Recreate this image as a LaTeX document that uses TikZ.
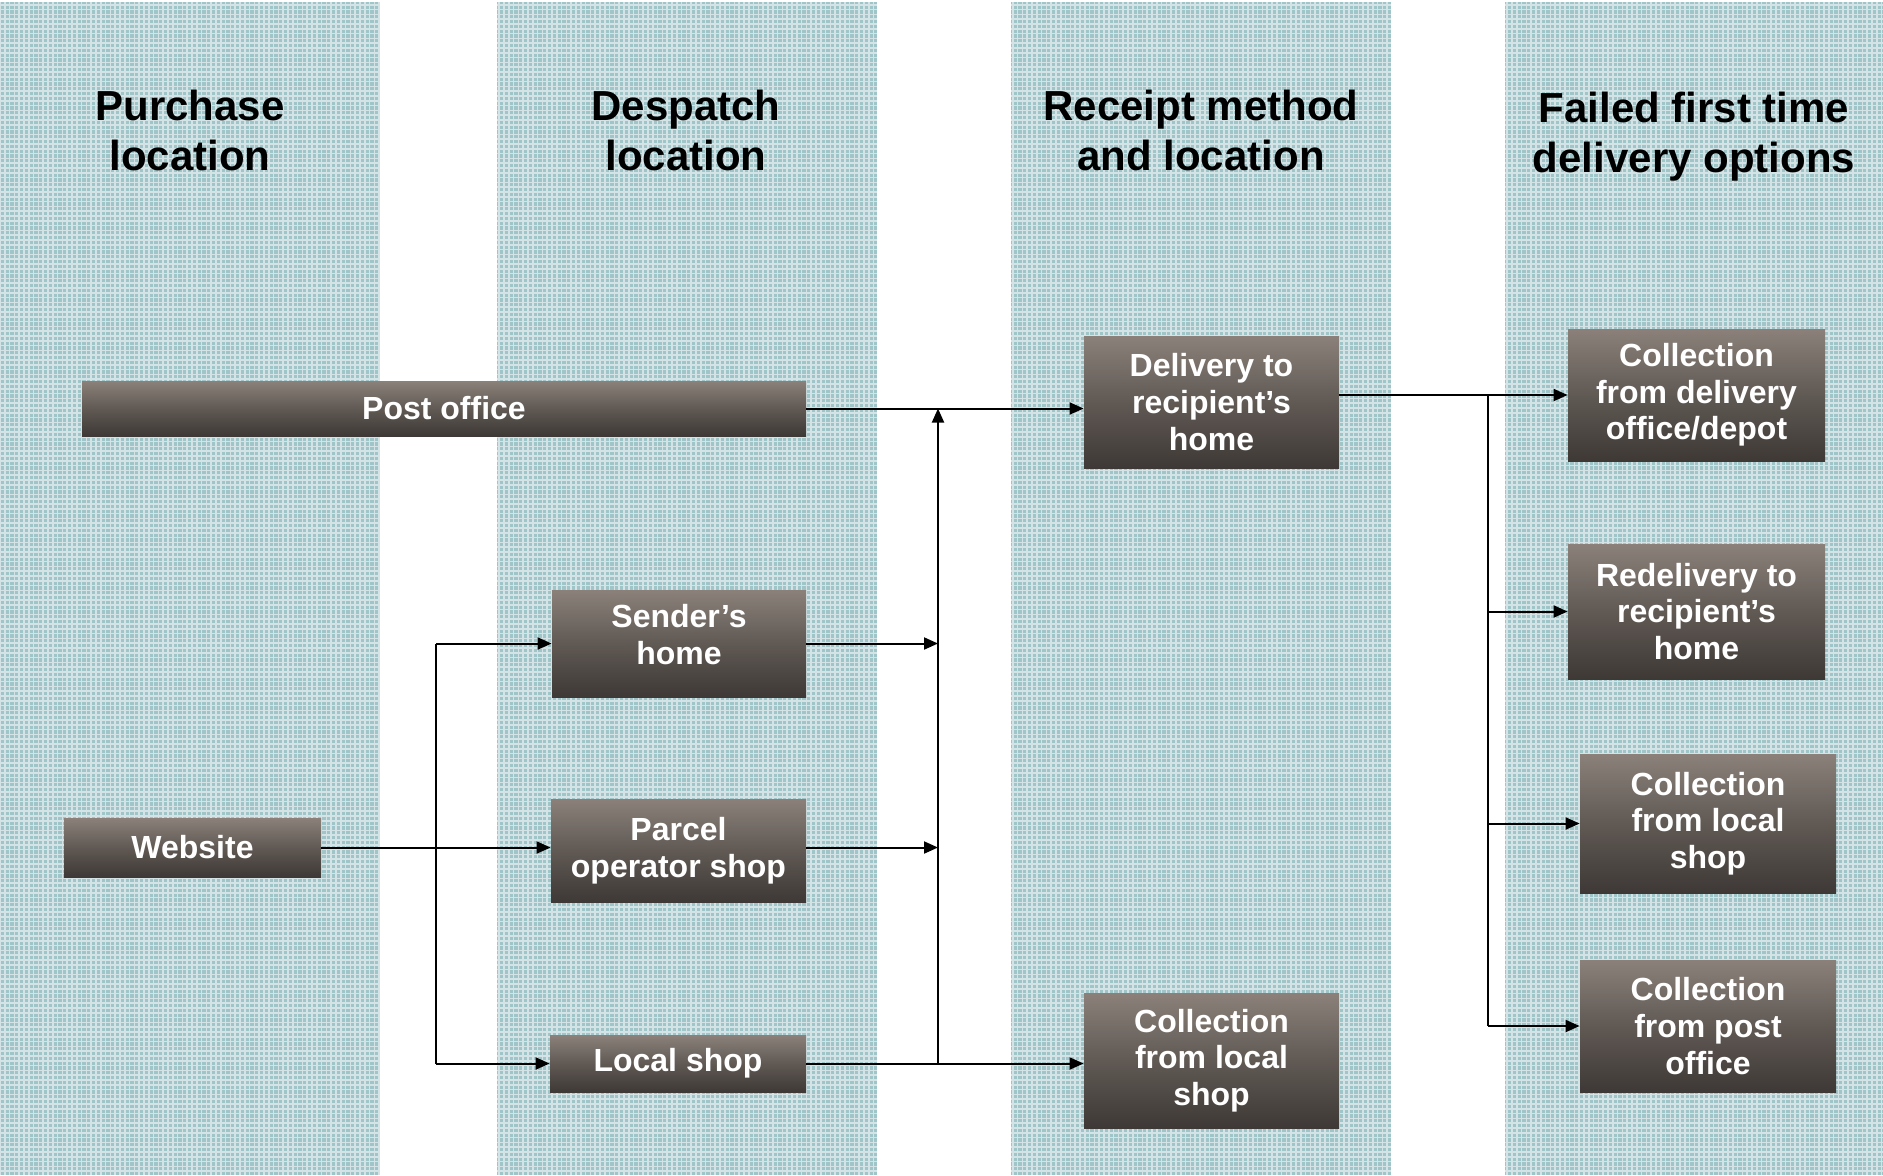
\documentclass[tikz,border=0pt]{standalone}
\usepackage{fontspec}
\setmainfont{Liberation Sans}
\usetikzlibrary{arrows.meta,positioning,calc}

\definecolor{lanebg}{RGB}{160,197,201}
\definecolor{boxtop}{RGB}{139,129,122}
\definecolor{boxmid}{RGB}{96,89,84}
\definecolor{boxbot}{RGB}{62,57,54}

\tikzset{
  lane/.style={fill=lanebg},
  laneweave/.style={white, line width=0.8pt, opacity=0.55},
  heading/.style={font=\fontsize{21}{25}\selectfont\bfseries, align=center},
  box/.style={top color=boxtop, bottom color=boxbot, middle color=boxmid, text=white,
    font=\fontsize{16}{18.3}\selectfont\bfseries, align=center, inner sep=0pt},
  flow/.style={-{Triangle[length=7pt,width=6pt]}, line width=1pt},
  link/.style={line width=1pt},
}

\begin{document}
\begin{tikzpicture}[x=0.5pt, y=-0.5pt]
    \useasboundingbox (0,0) rectangle (1883,1175);

    % lanes
    \foreach \cx in {0,497,1011,1505} {
        \fill[lane] (\cx,2) rectangle (\cx+380,1175);
        \draw[laneweave] (\cx,2) grid[step=2.4pt] (\cx+380,1175);
    }

    \node[heading] (purchase) at (190,130) {Purchase\\location};
    \node[heading] (despatch) at (686,130) {Despatch\\location};
    \node[heading] (receipt) at (1201,130) {Receipt method\\and location};
    \node[heading] (failed) at (1694,137) {Failed first time\\delivery options};

    \node[box, minimum width=362pt, minimum height=27.5pt] (po) at (444,408.5) {Post office};
    \node[box, minimum width=128.5pt, minimum height=29.5pt] (web) at (192.5,847.5) {Website};

    \node[box, minimum width=127pt, minimum height=53.5pt, text depth=9pt] (sender) at (679,643.5) {Sender’s\\home};
    \node[box, minimum width=127.5pt, minimum height=51.5pt] (parcel) at (678.5,850.5) {Parcel\\operator shop};
    \node[box, minimum width=128pt, minimum height=28.5pt] (shop) at (678,1063.5) {Local shop};

    \node[box, minimum width=127.5pt, minimum height=66pt] (home) at (1211.5,402) {Delivery to\\recipient’s\\home};
    \node[box, minimum width=127.5pt, minimum height=67.5pt] (locshop) at (1211.5,1060.5) {Collection\\from local\\shop};

    \node[box, minimum width=128.5pt, minimum height=66pt] (depot) at (1696.5,395) {Collection\\from delivery\\office/depot};
    \node[box, minimum width=128.5pt, minimum height=67.5pt] (redel) at (1696.5,611.5) {Redelivery to\\recipient’s\\home};
    \node[box, minimum width=128pt, minimum height=69.5pt] (colshop) at (1708,823.5) {Collection\\from local\\shop};
    \node[box, minimum width=128pt, minimum height=66pt] (colpo) at (1708,1026) {Collection\\from post\\office};

    \coordinate (j1) at (436,0);
    \coordinate (j2) at (938,0);
    \coordinate (j3) at (1488,0);

    \draw[link] (j1 |- sender.west) -- (j1 |- shop.west);
    \draw[flow] (web.east) -- (web.east -| parcel.west);
    \draw[flow] (j1 |- sender.west) -- (sender.west);
    \draw[flow] (j1 |- shop.west) -- (shop.west);

    \draw[flow] (sender.east) -- (sender.east -| j2);
    \draw[flow] (web.east -| parcel.east) -- (web.east -| j2);
    \draw[flow] (shop.east) -- (shop.east -| locshop.west);
    \draw[flow] (j2 |- shop.east) -- (j2 |- po.east);
    \draw[flow] (po.east) -- (po.east -| home.west);

    \draw[flow] (home.east |- depot.west) -- (depot.west);
    \draw[link] (j3 |- depot.west) -- (j3 |- colpo.west);
    \draw[flow] (j3 |- redel.west) -- (redel.west);
    \draw[flow] (j3 |- colshop.west) -- (colshop.west);
    \draw[flow] (j3 |- colpo.west) -- (colpo.west);

\end{tikzpicture}
\end{document}
